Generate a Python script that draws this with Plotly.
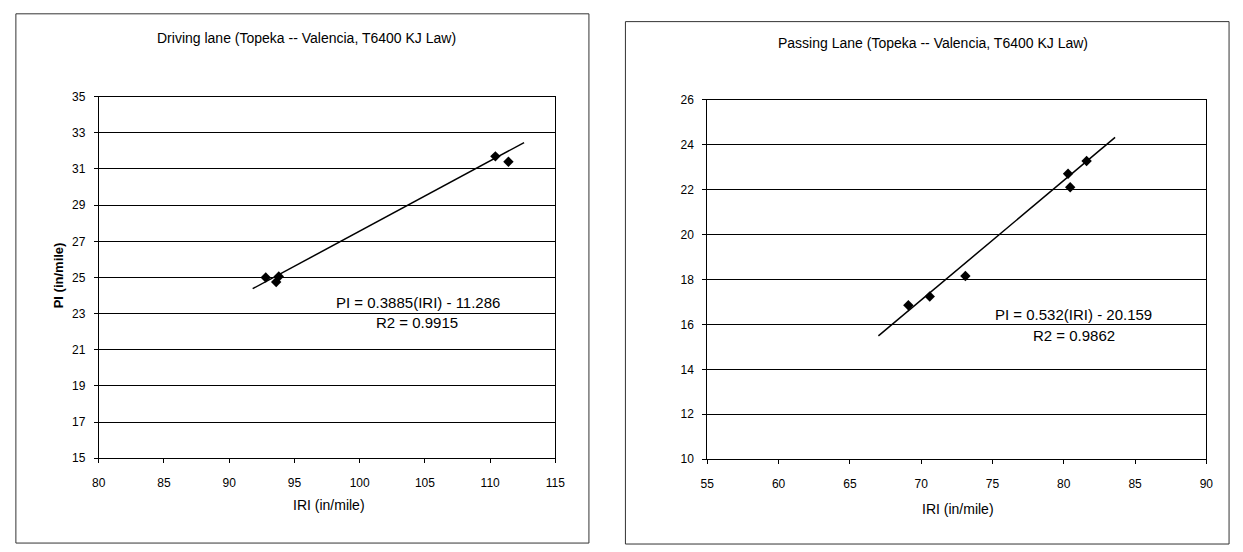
import plotly.graph_objects as go

W, H = 1243, 552

# ---- data ----
drive_iri = [92.8, 93.6, 93.8, 110.4, 111.4]
drive_pi = [25.0, 24.75, 25.05, 31.7, 31.4]
drive_fit_x = [91.8, 112.6]
drive_slope, drive_icept = 0.3885, -11.286

pass_iri = [69.1, 70.6, 73.1, 80.3, 80.45, 81.6]
pass_pi = [16.85, 17.24, 18.15, 22.7, 22.1, 23.27]
pass_fit_x = [67.0, 83.6]
pass_slope, pass_icept = 0.532, -20.159

drive_xticks = [80, 85, 90, 95, 100, 105, 110, 115]
drive_yticks = [15, 17, 19, 21, 23, 25, 27, 29, 31, 33, 35]
pass_xticks = [55, 60, 65, 70, 75, 80, 85, 90]
pass_yticks = [10, 12, 14, 16, 18, 20, 22, 24, 26]

FONT = "Liberation Sans, Arial, sans-serif"

def px(x):
    return x / W

def py(y):
    return 1 - y / H

fig = go.Figure()

fig.add_trace(go.Scatter(x=drive_iri, y=drive_pi, mode="markers",
                         marker=dict(symbol="diamond", size=8, color="black"),
                         xaxis="x", yaxis="y", showlegend=False))
fig.add_trace(go.Scatter(x=drive_fit_x, y=[drive_slope * v + drive_icept for v in drive_fit_x],
                         mode="lines", line=dict(color="black", width=1.5),
                         xaxis="x", yaxis="y", showlegend=False))
fig.add_trace(go.Scatter(x=pass_iri, y=pass_pi, mode="markers",
                         marker=dict(symbol="diamond", size=8, color="black"),
                         xaxis="x2", yaxis="y2", showlegend=False))
fig.add_trace(go.Scatter(x=pass_fit_x, y=[pass_slope * v + pass_icept for v in pass_fit_x],
                         mode="lines", line=dict(color="black", width=1.5),
                         xaxis="x2", yaxis="y2", showlegend=False))

axis_common = dict(showline=True, linecolor="black", linewidth=1, mirror=True,
                   ticks="outside", ticklen=4, tickcolor="black",
                   tickfont=dict(family=FONT, size=12, color="black"), zeroline=False)

fig.update_layout(
    width=W, height=H, margin=dict(l=0, r=0, t=0, b=0),
    paper_bgcolor="white", plot_bgcolor="white", showlegend=False,
    xaxis=dict(domain=[px(93), px(556)], range=[80, 115], tickvals=drive_xticks,
               showgrid=False, anchor="y", ticklabelstandoff=9, **axis_common),
    yaxis=dict(domain=[py(463), py(92)], range=[15, 35], tickvals=drive_yticks,
               showgrid=True, gridcolor="black", gridwidth=1, anchor="x",
               ticklabelstandoff=6, **axis_common),
    xaxis2=dict(domain=[px(710), px(1216)], range=[55, 90], tickvals=pass_xticks,
                showgrid=False, anchor="y2", ticklabelstandoff=9, **axis_common),
    yaxis2=dict(domain=[py(464), py(95)], range=[10, 26], tickvals=pass_yticks,
                showgrid=True, gridcolor="black", gridwidth=1, anchor="x2",
                ticklabelstandoff=6, **axis_common),
)

fig.add_shape(type="rect", xref="paper", yref="paper",
              x0=px(9), x1=px(590), y0=py(550), y1=py(7),
              line=dict(color="#333", width=1))
fig.add_shape(type="rect", xref="paper", yref="paper",
              x0=px(627), x1=px(1239), y0=py(551), y1=py(15),
              line=dict(color="#333", width=1))

ann = []
def txt(text, x, y, size=11, xref="paper", yref="paper", angle=0, bold=False):
    ann.append(dict(text=f"<b>{text}</b>" if bold else text, x=x, y=y, xref=xref, yref=yref,
                    showarrow=False, textangle=angle, xanchor="center", yanchor="middle",
                    font=dict(family=FONT, size=size, color="black")))

txt("Driving lane (Topeka -- Valencia, T6400 KJ Law)", px(304), py(32), size=14)
txt("Passing Lane (Topeka -- Valencia, T6400 KJ Law)", px(939), py(37), size=14)
txt("IRI (in/mile)", px(326), py(511), size=14)
txt("IRI (in/mile)", px(964), py(515), size=14)
txt("PI (in/mile)", px(52), py(275), size=13, angle=-90, bold=True)

txt("PI = 0.3885(IRI) - 11.286", 104.5, 23.6, size=15, xref="x", yref="y")
txt("R2 = 0.9915", 104.4, 22.5, size=15, xref="x", yref="y")
txt("PI = 0.532(IRI) - 20.159", 80.7, 16.42, size=15, xref="x2", yref="y2")
txt("R2 = 0.9862", 80.7, 15.5, size=15, xref="x2", yref="y2")

fig.update_layout(annotations=ann)

fig.write_html("out.html")
